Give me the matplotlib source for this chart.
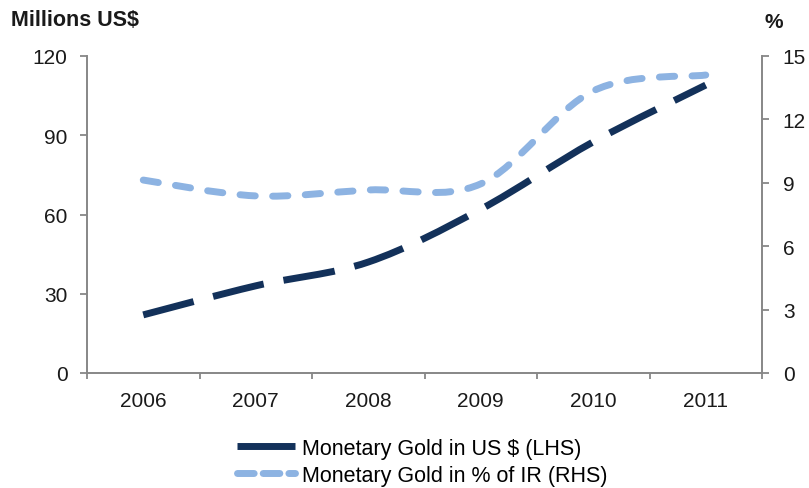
import matplotlib
matplotlib.use("Agg")
import matplotlib.pyplot as plt
from matplotlib.path import Path
from matplotlib.patches import PathPatch
from matplotlib.lines import Line2D
import numpy as np

plt.rcParams['font.family'] = ['Liberation Sans', 'DejaVu Sans']

years = ['2006', '2007', '2008', '2009', '2010', '2011']
gold_usd = [22, 33, 42, 62, 87.5, 109]
gold_pct_ir = [9.13, 8.38, 8.66, 8.95, 13.35, 14.1]

left_ticks = [0, 30, 60, 90, 120]
right_ticks = [0, 3, 6, 9, 12, 15]

DARK = '#13315a'
LIGHT = '#8db3e2'
GRAY = '#878787'
TXT = '#1a1a1a'
LW = 5.0

fig = plt.figure(figsize=(8.09, 4.89), dpi=100)
ax = fig.add_axes([87/809, (489-374)/489, (762-87)/809, (374-57)/489])
ax2 = ax.twinx()


def smooth_path(xs, ys):
    # Excel-style smoothed line: cubic Bezier through every point
    pts = np.column_stack([xs, ys]).astype(float)
    n = len(pts)
    verts = [pts[0]]
    codes = [Path.MOVETO]
    for i in range(n - 1):
        p0 = pts[i - 1] if i > 0 else pts[i]
        p1 = pts[i]
        p2 = pts[i + 1]
        p3 = pts[i + 2] if i + 2 < n else pts[i + 1]
        c1 = p1 + (p2 - p0) / 6.0
        c2 = p2 - (p3 - p1) / 6.0
        verts += [c1, c2, p2]
        codes += [Path.CURVE4] * 3
    return Path(verts, codes)


x = np.arange(len(years))
p1 = PathPatch(smooth_path(x, gold_usd), fill=False, edgecolor=DARK,
               linewidth=LW, linestyle=(0, (7.5, 2.9)), capstyle='butt')
ax.add_patch(p1)
p2 = PathPatch(smooth_path(x, gold_pct_ir), fill=False, edgecolor=LIGHT,
               linewidth=LW, linestyle=(0, (2.2, 2.5)), capstyle='round',
               joinstyle='round')
ax2.add_patch(p2)

ax.set_xlim(-0.5, len(years) - 0.5)
ax.set_ylim(0, 120)
ax2.set_ylim(0, 15)
ax.set_yticks(left_ticks)
ax2.set_yticks(right_ticks)
ax.set_xticks(x)
ax.set_xticklabels(years)
ax.set_xticks(np.arange(-0.5, len(years)), minor=True)

for a in (ax, ax2):
    a.spines['top'].set_visible(False)
    for s in a.spines.values():
        s.set_color(GRAY)
        s.set_linewidth(1.4)
ax.spines['right'].set_visible(False)
ax2.spines['left'].set_visible(False)
ax2.spines['bottom'].set_visible(False)

ax.tick_params(axis='y', direction='out', length=5, width=1.3, color=GRAY,
               labelsize=15, pad=9, labelcolor=TXT)
ax2.tick_params(axis='y', direction='out', length=5, width=1.3, color=GRAY,
                labelsize=15, pad=10, labelcolor=TXT)
ax.tick_params(axis='x', which='major', length=0, labelsize=15, pad=13,
               labelcolor=TXT)
ax.tick_params(axis='x', which='minor', direction='out', length=4, width=1.3,
               color=GRAY)

fig.text(11/809, 1 - 21/489, 'Millions US$', fontsize=15.5, fontweight='bold',
         ha='left', va='center', color=TXT)
fig.text(774/809, 1 - 22/489, '%', fontsize=15, fontweight='bold',
         ha='center', va='center', color=TXT)

h1 = Line2D([], [], color=DARK, linewidth=LW, solid_capstyle='butt')
h2 = Line2D([], [], color=LIGHT, linewidth=LW, linestyle=(0, (2.4, 1.3)),
            dash_capstyle='round')
fig.legend([h1, h2], ['Monetary Gold in US $ (LHS)', 'Monetary Gold in % of IR (RHS)'],
           loc='center', bbox_to_anchor=(422/809, 1 - 463/489), frameon=False,
           fontsize=15.5, handlelength=2.7, handletextpad=0.3, labelspacing=0.28,
           borderpad=0)

fig.savefig('out.png', dpi=100)
